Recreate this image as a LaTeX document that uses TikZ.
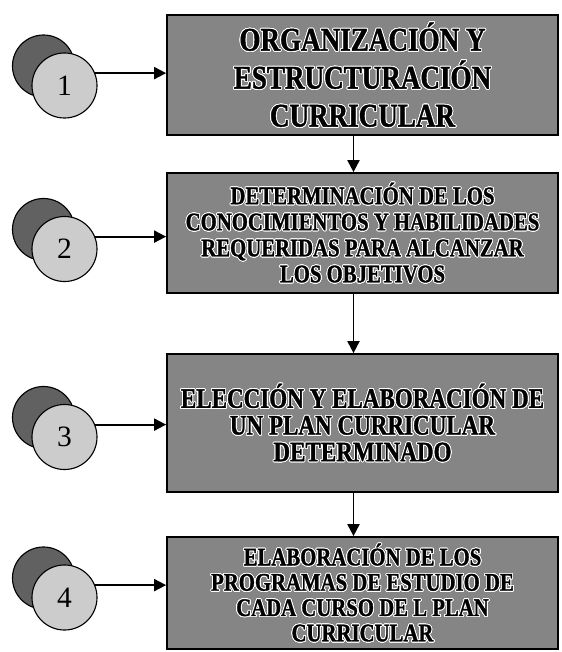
\documentclass[tikz,border=0pt]{standalone}
\usepackage{fontspec}
\setmainfont{Liberation Serif}
\newfontfamily\cajafont[FakeStretch=0.82,FakeBold=1.2]{Liberation Serif Bold}
\usepackage{contour}
\contourlength{0.6pt}
\contournumber{24}
\usetikzlibrary{arrows.meta}
\definecolor{fondo}{gray}{0.52}
\definecolor{claro}{gray}{0.80}
\definecolor{oscuro}{gray}{0.38}
\newcommand{\ct}[1]{\contour{white}{#1}}

\begin{document}
\begin{tikzpicture}[x=0.025cm,y=-0.025cm,
	caja/.style={draw,line width=1.2pt,fill=fondo,minimum width=9.775cm,align=center,inner sep=0pt},
	atras/.style={circle,draw,line width=0.8pt,fill=oscuro,minimum size=1.55cm,inner sep=0pt},
	frente/.style={circle,draw,line width=0.8pt,fill=claro,minimum size=1.625cm,inner sep=0pt,font=\fontsize{21}{21}\selectfont},
	flecha/.style={-{Triangle[length=0.3cm,width=0.3cm]},line width=1.4pt}]
	\useasboundingbox (0,0) rectangle (561,652);
	\node [caja,minimum height=3cm,font=\cajafont\fontsize{23.5}{27}\selectfont] (box1) at (362.5,75) {\ct{ORGANIZACIÓN Y}\\\ct{ESTRUCTURACIÓN}\\\ct{CURRICULAR}};
	\node [caja,minimum height=3cm,font=\cajafont\fontsize{18}{18.5}\selectfont] (box2) at (362.5,233) {\ct{DETERMINACIÓN DE LOS}\\\ct{CONOCIMIENTOS Y HABILIDADES}\\\ct{REQUERIDAS PARA  ALCANZAR}\\\ct{LOS OBJETIVOS}};
	\node [caja,minimum height=3.45cm,font=\cajafont\fontsize{20}{19}\selectfont] (box3) at (362.5,423) {\ct{ELECCIÓN Y ELABORACIÓN DE}\\\ct{UN PLAN CURRICULAR}\\\ct{DETERMINADO}};
	\node [caja,minimum height=2.8cm,font=\cajafont\fontsize{18}{18}\selectfont] (box4) at (362.5,593) {\ct{ELABORACIÓN DE LOS}\\\ct{PROGRAMAS DE ESTUDIO DE}\\\ct{CADA CURSO DE L PLAN}\\\ct{CURRICULAR}};
	\node [atras] (back1) at (43.5,66) {};
	\node [frente] (num1) at (64.5,85.5) {1};
	\node [atras] (back2) at (43.5,229.5) {};
	\node [frente] (num2) at (64.5,249) {2};
	\node [atras] (back3) at (43.5,417.5) {};
	\node [frente] (num3) at (64.5,437) {3};
	\node [atras] (back4) at (43.5,578) {};
	\node [frente] (num4) at (64.5,597.5) {4};
	\draw [flecha] (num1.22) -- (num1.22 -| box1.west);
	\draw [flecha] (num2.22) -- (num2.22 -| box2.west);
	\draw [flecha] (num3.22) -- (num3.22 -| box3.west);
	\draw [flecha] (num4.22) -- (num4.22 -| box4.west);
	\draw [flecha] ([xshift=-0.225cm]box1.south) -- ([xshift=-0.225cm]box2.north);
	\draw [flecha] ([xshift=-0.225cm]box2.south) -- ([xshift=-0.225cm]box3.north);
	\draw [flecha] ([xshift=-0.225cm]box3.south) -- ([xshift=-0.225cm]box4.north);
\end{tikzpicture}
\end{document}
